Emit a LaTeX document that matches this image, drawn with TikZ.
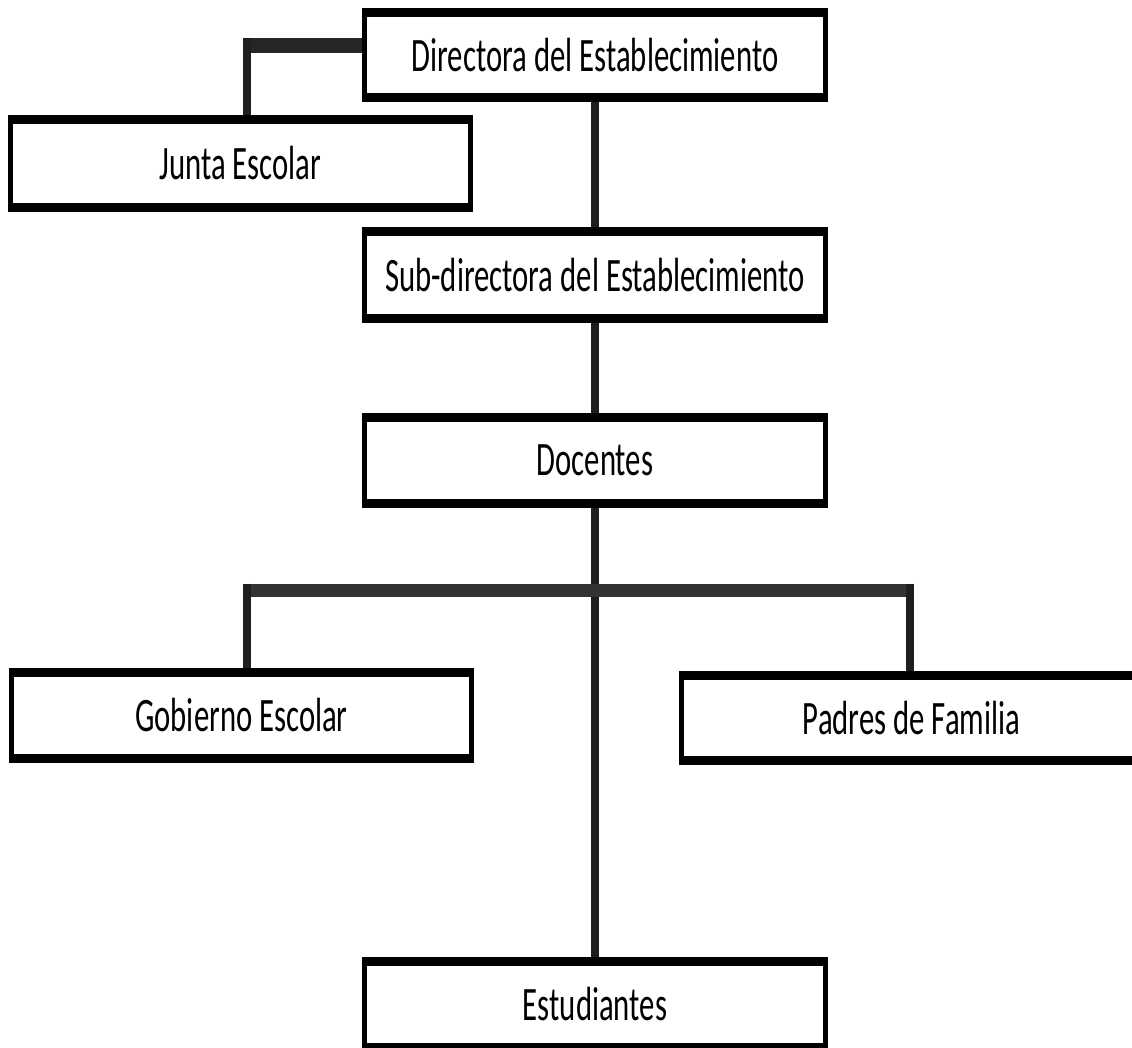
\documentclass[tikz,border=0pt]{standalone}
\usepackage{fontspec}
\newfontfamily\boxfont[FakeStretch=0.64]{Carlito}
\definecolor{linecol}{HTML}{1E1E1E}
\definecolor{barcol}{HTML}{333333}
\definecolor{topbarcol}{HTML}{262626}
\begin{document}
\begin{tikzpicture}[x=1pt,y=1pt,
  orgbox/.style={rectangle, draw=none, fill=white, inner sep=0pt, outer sep=0pt,
    minimum width=461pt, minimum height=86pt,
    font=\boxfont\fontsize{48}{56}\selectfont, text=black},
  vside/.style={line width=5pt, draw=black, line join=round},
  hside/.style={line width=9pt, draw=black},
  stem/.style={line width=8pt, draw=linecol},
  hbar/.style={line width=13pt, draw=barcol}]
\useasboundingbox (0,0) rectangle (1132,-1048);
\fill[white] (0,0) rectangle (1132,-1048);

% boxes
\node[orgbox, minimum height=85pt] (dir) at (595,-55) {Directora del Establecimiento};
\node[orgbox, minimum width=460pt, minimum height=88pt] (junta) at (240.5,-163.5) {Junta Escolar};
\node[orgbox, minimum height=87pt] (sub) at (595,-275) {Sub-directora del Establecimiento};
\node[orgbox] (doc) at (595,-460.5) {Docentes};
\node[orgbox, minimum width=460pt] (gob) at (241.5,-715.5) {Gobierno Escolar};
\node[orgbox, minimum width=460pt, minimum height=85pt] (pad) at (911.5,-718) {Padres de Familia};
\node[orgbox] (est) at (595,-1004.5) {Estudiantes};

% connectors
\coordinate (jc) at (247,-46);
\draw[hbar, draw=topbarcol, line width=15pt] (jc -| dir.west) -- ([xshift=-4pt]jc);
\draw[stem] ([yshift=7.5pt]jc) -- (jc |- junta.north);
\draw[stem] (dir.south) -- (sub.north);
\draw[stem] (sub.south) -- (doc.north);
\draw[stem] (doc.south) -- (est.north);
\coordinate (bl) at (247,-590);
\coordinate (br) at (910,-590);
\draw[hbar] ([xshift=-4pt]bl) -- ([xshift=4pt]br);
\draw[stem] ([yshift=6.5pt]bl) -- (bl |- gob.north);
\draw[stem] ([yshift=6.5pt]br) -- (br |- pad.north);

% borders
\foreach \n in {dir,junta,sub,doc,gob,pad,est}{
  \draw[vside] (\n.south west) rectangle (\n.north east);
  \draw[hside] ([xshift=-2.5pt]\n.north west) -- ([xshift=2.5pt]\n.north east);
  \draw[hside] ([xshift=-2.5pt]\n.south west) -- ([xshift=2.5pt]\n.south east);
}
\end{tikzpicture}
\end{document}
